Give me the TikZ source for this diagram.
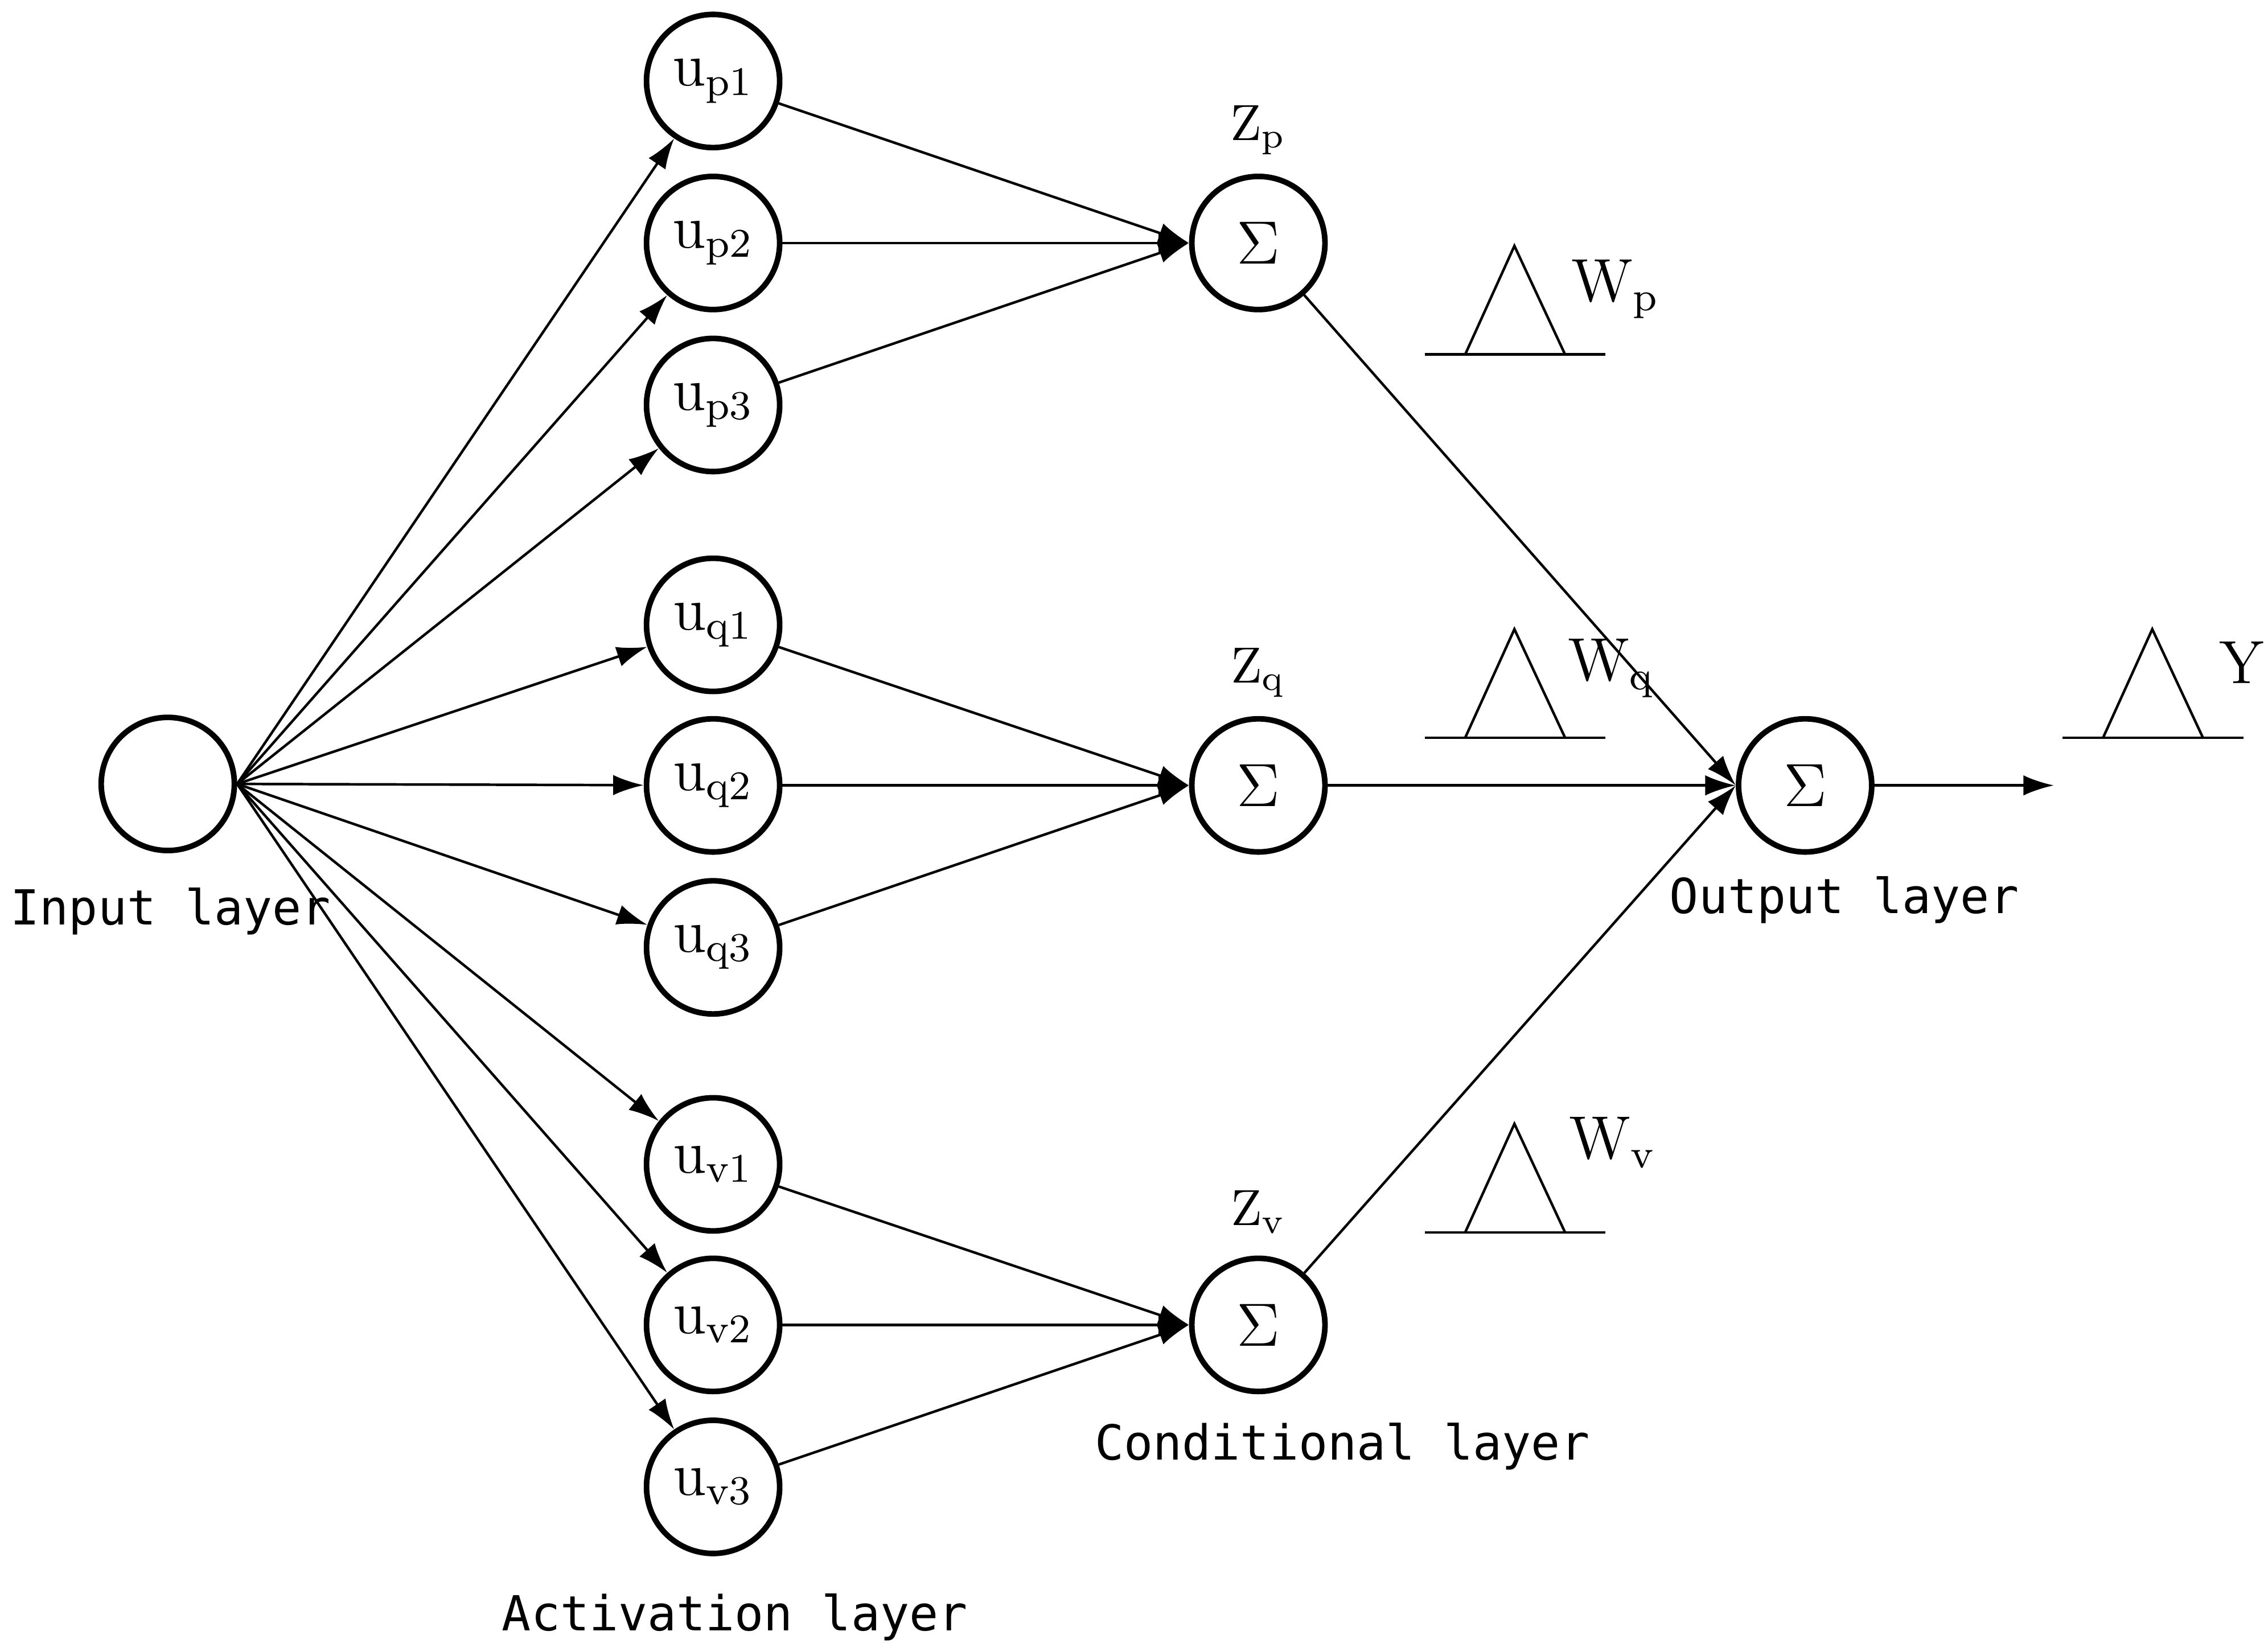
\documentclass[tikz,border=0pt]{standalone}
\usepackage{fontspec}
\newfontfamily\lbl{DejaVu Sans Mono}
\usetikzlibrary{arrows.meta}
\begin{document}
\begin{tikzpicture}[x=0.01cm,y=-0.01cm,
  neuron/.style={circle,draw,line width=1.1pt,minimum size=0.92cm,inner sep=0pt,font=\large},
  conn/.style={-{Latex[length=6pt,width=4pt]},line width=0.5pt},
  layertext/.style={font=\lbl\fontsize{9.5}{11}\selectfont},
  tri/.style={line width=0.5pt}]
\useasboundingbox (0,0) rectangle (1568,1142);
\node[neuron] (in) at (116,542) {};
\foreach \n/\g/\i/\y in {p1/p/1/56,p2/p/2/168,p3/p/3/280,q1/q/1/432,q2/q/2/543,q3/q/3/655,v1/v/1/805,v2/v/2/916,v3/v/3/1028}{
  \node[neuron] (u\n) at (493,\y) {$\mathrm{u}_{\mathrm{\g\i}}$};
  \draw[conn] (in.east) -- (u\n);
}
\foreach \g/\y in {p/168,q/543,v/916}{
  \node[neuron] (z\g) at (870,\y) {$\Sigma$};
  \node at (870,\y-78) {$\mathrm{Z}_{\mathrm{\g}}$};
  \foreach \i in {1,2,3}{\draw[conn] (u\g\i) -- (z\g.west);}
}
\node[neuron] (out) at (1248,543) {$\Sigma$};
\foreach \g in {p,q,v}{\draw[conn] (z\g) -- (out.west);}
\coordinate (yend) at (1420,543);
\draw[conn] (out) -- (yend);
% triangles
\foreach \x/\y in {1047/245,1047/510,1047/852,1488/510}{
  \draw[tri] (\x-62,\y) -- (\x+63,\y);
  \draw[tri] (\x-34,\y) -- (\x,\y-75) -- (\x+35,\y);
}
\node at (1117,200) {\large$\mathrm{W}_{\mathrm{p}}$};
\node at (1114,462) {\large$\mathrm{W}_{\mathrm{q}}$};
\node at (1115,790) {\large$\mathrm{W}_{\mathrm{v}}$};
\node at (1550,458) {\large$\mathrm{Y}$};
\node[layertext] at (118,630) {Input layer};
\node[layertext] at (1275,622) {Output layer};
\node[layertext] at (928,1000) {Conditional layer};
\node[layertext] at (508,1118) {Activation layer};
\end{tikzpicture}
\end{document}
